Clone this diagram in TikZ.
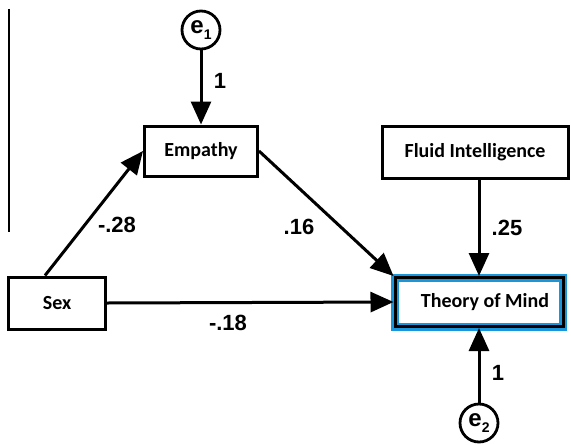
\documentclass[tikz,border=0pt]{standalone}
\usepackage{fontspec}
\setmainfont{Carlito}
\newfontfamily\arialfont{Liberation Sans}
\usetikzlibrary{arrows.meta}
\definecolor{tomblue}{RGB}{25,150,220}

\begin{document}
\begin{tikzpicture}[
    x=0.5pt, y=-0.5pt,
    >={Triangle[length=11.5pt,width=10pt]},
    varbox/.style={draw=black, line width=1.5pt, inner sep=0pt,
        font=\bfseries\fontsize{10}{12}\selectfont},
    errnode/.style={circle, draw=black, line width=1.4pt, minimum size=19pt,
        inner sep=0pt, font=\arialfont\bfseries\fontsize{12}{14}\selectfont},
    link/.style={->, line width=1.5pt},
    coef/.style={font=\arialfont\bfseries\fontsize{11}{13}\selectfont},
]
\useasboundingbox (0,0) rectangle (571,444);

% === margin rule ===
\draw[line width=0.6pt] (9,9) -- (9,232);

% === observed variables ===
\node[varbox, minimum width=56.5pt, minimum height=25pt] (emp) at (201,151) {Empathy};
\node[varbox, minimum width=93pt, minimum height=26pt] (fluid) at (475,152) {Fluid Intelligence};
\node[varbox, minimum width=48.5pt, minimum height=26pt] (sex) at (57,303) {Sex};
% Theory of Mind: blue frame round the black one
\node[varbox, minimum width=84pt, minimum height=24.5pt,
    preaction={draw=tomblue, line width=4pt}] (tom) at (479,302) {\hspace*{6pt}Theory of Mind};

% === error terms ===
\node[errnode] (e1) at (201,30) {e\raisebox{-0.5ex}{\fontsize{7}{8}\selectfont 1}};
\node[errnode] (e2) at (479,423) {e\raisebox{-0.5ex}{\fontsize{7}{8}\selectfont 2}};

% === paths ===
\draw[link] (e1) -- (emp);
\draw[link] ([xshift=-6pt]sex.north) -- (emp.west);
\draw[link] (emp.east) -- (tom.north west);
\draw[link] (fluid.south -| tom.north) -- (tom.north);
\draw[link] (sex.east) -- (tom.west);
\draw[link] (e2) -- (tom);

% === coefficients ===
\node[coef] (c1) at (220,81) {1};
\node[coef] (c28) at (117,225) {-.28};
\node[coef] (c16) at (299,227) {.16};
\node[coef] (c25) at (507,228) {.25};
\node[coef] (c18) at (228,323) {-.18};
\node[coef] (c2) at (498,373) {1};

\end{tikzpicture}
\end{document}
